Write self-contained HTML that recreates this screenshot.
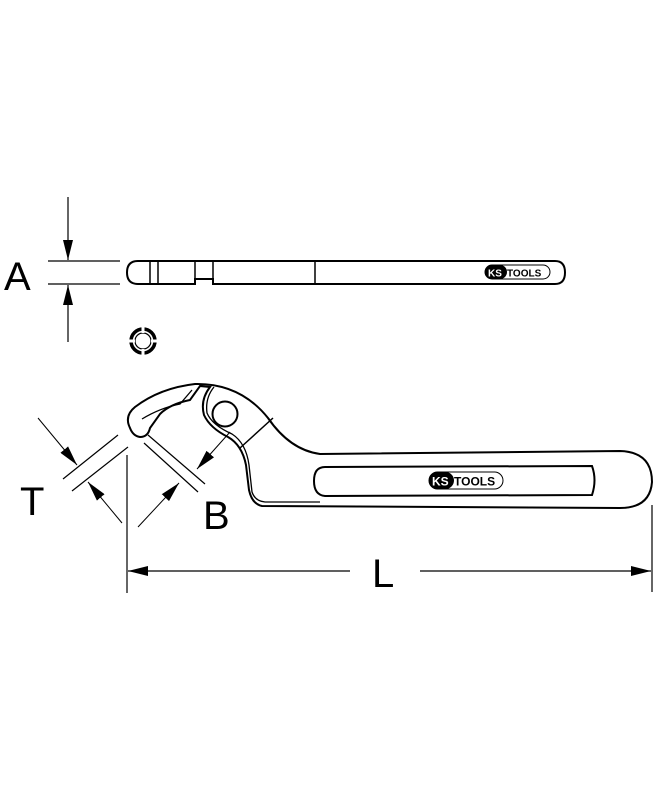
<!DOCTYPE html>
<html><head><style>body{margin:0;background:#fff}svg{display:block}</style></head><body>
<svg width="654" height="800" viewBox="0 0 654 800" xmlns="http://www.w3.org/2000/svg" font-family="Liberation Sans, sans-serif">
<defs>
<marker id="ar2" markerWidth="20" markerHeight="10" refX="20" refY="5" orient="auto" markerUnits="userSpaceOnUse"><path d="M0,0 L20,5 L0,10 Z" fill="#000"/></marker></defs>
<g stroke="#000" fill="none">
<!-- A dimension -->
<line x1="48" y1="261" x2="120" y2="261" stroke-width="1.2"/>
<line x1="48" y1="284" x2="120" y2="284" stroke-width="1.2"/>
<line x1="68" y1="197" x2="68" y2="260" stroke-width="1.2" marker-end="url(#ar2)"/>
<line x1="68" y1="342" x2="68" y2="285" stroke-width="1.2" marker-end="url(#ar2)"/>
<!-- top bar -->
<path d="M138,261 L555,261 Q565,261 565,272.5 Q565,284 555,284 L213,284 L213,279 L195,279 L195,284 L138,284 Q127,284 127,272.5 Q127,261 138,261 Z" stroke-width="2"/>
<line x1="150" y1="261" x2="150" y2="284" stroke-width="1.5"/>
<line x1="158" y1="261" x2="158" y2="284" stroke-width="1.5"/>
<line x1="195" y1="261" x2="195" y2="279" stroke-width="1.5"/>
<line x1="213" y1="261" x2="213" y2="279" stroke-width="1.5"/>
<line x1="315" y1="261" x2="315" y2="284" stroke-width="1.5"/>
<!-- ring icon -->
<circle cx="143" cy="341" r="12" stroke-width="3.5"/>
<circle cx="143" cy="341" r="8" stroke-width="1.2"/>
<g stroke="#fff" stroke-width="3"><line x1="143" y1="326" x2="143" y2="333"/><line x1="143" y1="349" x2="143" y2="356"/><line x1="128" y1="341" x2="135" y2="341"/><line x1="151" y1="341" x2="158" y2="341"/></g>
<!-- wrench outer -->
<path d="M130,428 Q124,416 135,407 Q160,388 195,384 Q240,383 268,418 Q290,450 320,454 L620,451 Q652,452 652,482 Q650,508 620,508 L262,506 Q252,504 249,490 L246,465 Q242,445 228,437 Q210,428 204,415 Q200,400 210,387 L200,386 L190,400 Q170,404 160,414 L150,428 Q148,437 140,437 Q133,436 130,428 Z" stroke-width="2"/>
<path d="M142,419 Q160,408 180,404 L192,390" stroke-width="1.3"/>
<path d="M214,387 Q205,398 207,413 Q212,425 232,434 Q246,443 249,465 L252,492 Q255,501 265,502 L320,502" stroke-width="1.3"/>
<circle cx="225" cy="414" r="12.5" stroke-width="2"/>
<line x1="240" y1="448" x2="273" y2="418" stroke-width="1.5"/>
<path d="M325,467 L592,466 Q597,480 592,495 L325,496 Q314,495 314,481 Q314,467 325,467 Z" stroke-width="2"/>
<!-- B dimension -->
<line x1="148" y1="435" x2="205" y2="484" stroke-width="1.2"/>
<line x1="144" y1="443" x2="198" y2="492" stroke-width="1.2"/>
<line x1="230" y1="432" x2="197" y2="469" stroke-width="1" marker-end="url(#ar2)"/>
<line x1="138" y1="527" x2="179" y2="483" stroke-width="1" marker-end="url(#ar2)"/>
<!-- T dimension -->
<line x1="118" y1="435" x2="63" y2="479" stroke-width="1.2"/>
<line x1="128" y1="447" x2="72" y2="491" stroke-width="1.2"/>
<line x1="38" y1="418" x2="77" y2="465" stroke-width="1" marker-end="url(#ar2)"/>
<line x1="122" y1="523" x2="88" y2="482" stroke-width="1" marker-end="url(#ar2)"/>
<!-- L dimension -->
<line x1="127" y1="455" x2="127" y2="593" stroke-width="1.2"/>
<line x1="652" y1="505" x2="652" y2="592" stroke-width="1.2"/>
<line x1="350" y1="571" x2="128" y2="571" stroke-width="1.2" marker-end="url(#ar2)"/>
<line x1="420" y1="571" x2="651" y2="571" stroke-width="1.2" marker-end="url(#ar2)"/>
</g>
<g>
<rect x="485" y="265" width="65" height="14" rx="7" fill="#fff" stroke="#000" stroke-width="1"/>
<rect x="485" y="265" width="22" height="14" rx="7" fill="#000"/>
<text x="488" y="276.5" font-size="10" font-weight="bold" fill="#fff">KS</text>
<text x="507" y="276.5" font-size="10" font-weight="bold">TOOLS</text>
<rect x="429" y="472" width="74" height="17" rx="8.5" fill="#fff" stroke="#000" stroke-width="1"/>
<rect x="429" y="472" width="25" height="17" rx="8.5" fill="#000"/>
<text x="432" y="485.5" font-size="12" font-weight="bold" fill="#fff">KS</text>
<text x="454" y="485.5" font-size="12" font-weight="bold">TOOLS</text>
</g>
<text x="4" y="290" font-size="40">A</text>
<text x="20" y="515" font-size="40">T</text>
<text x="203" y="529" font-size="40">B</text>
<text x="372" y="587" font-size="40">L</text>
</svg>
</body></html>
